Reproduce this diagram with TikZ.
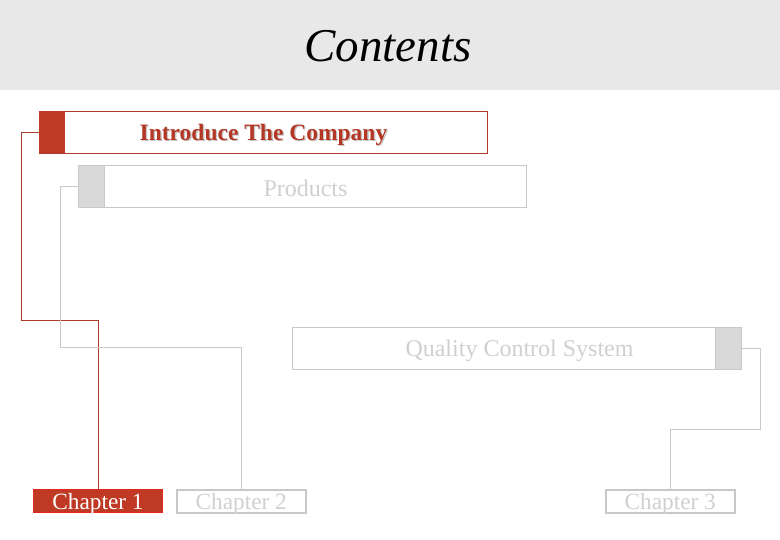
\documentclass[tikz,border=0pt]{standalone}
\usepackage{fontspec}
\setmainfont{Liberation Serif}
\usetikzlibrary{calc}
\begin{document}
\begin{tikzpicture}[x=1pt,y=-1pt,
  redc/.style={draw=redline,line width=1pt},
  grayc/.style={draw=grayline,line width=1pt},
  bigbox/.style={anchor=north west,inner sep=0pt,minimum width=448pt,minimum height=42pt},
  sq/.style={anchor=north west,inner sep=0pt,minimum width=26pt,minimum height=42pt},
  chap/.style={anchor=north west,inner sep=0pt,minimum width=129pt,minimum height=23pt},
  chaptxt/.style={font=\fontsize{23.3}{23.3}\selectfont},
  bigtxt/.style={font=\fontsize{24}{24}\selectfont},
  boldtxt/.style={font=\fontsize{23.5}{23.5}\selectfont\bfseries},
]
\definecolor{redfill}{RGB}{192,57,36}
\definecolor{redtext}{RGB}{180,55,38}
\definecolor{redline}{RGB}{170,60,45}
\definecolor{brightred}{RGB}{230,40,28}
\definecolor{grayline}{RGB}{200,200,200}
\definecolor{grayfill}{RGB}{217,217,217}
\definecolor{graytext}{RGB}{208,208,208}
\definecolor{headbg}{RGB}{232,232,232}
\useasboundingbox (0,0) rectangle (780,540);
\fill[white] (0,0) rectangle (780,540);
\fill[headbg] (0,0) rectangle (780,90);
\node (title) at (388,46) {\fontsize{47}{47}\selectfont\itshape Contents};

% boxes
\node[bigbox,draw=redline,line width=1pt] (intro) at (39,111) {};
\node[sq,fill=redfill] (introsq) at (39,111) {};
\node[boldtxt,text=black!22] (introsh) at ($(intro.center)+(1.3,3.3)$) {Introduce The Company};
\node[boldtxt,text=redtext] (introtxt) at ($(intro.center)+(0,2)$) {Introduce The Company};

\node[bigbox,draw=grayline,line width=1pt] (prod) at (78,165) {};
\node[sq,fill=grayfill,draw=grayline,line width=1pt] (prodsq) at (78,165) {};
\node[bigtxt,text=graytext] (prodtxt) at ($(prod.center)+(3,2)$) {Products};

\node[bigbox,draw=grayline,line width=1pt] (qcs) at (292,327) {};
\node[sq,fill=grayfill,draw=grayline,line width=1pt] (qcssq) at (715,327) {};
\node[bigtxt,text=graytext] (qcstxt) at ($(qcs.center)+(3,2)$) {Quality Control System};

\node[chap,fill=redfill,draw=brightred,line width=1pt] (ch1) at (33,489) {};
\node[chap,draw=grayline,line width=1.5pt] (ch2) at (176,489) {};
\node[chap,draw=grayline,line width=1.5pt] (ch3) at (605,489) {};
\node[chaptxt,text=white] (ch1t) at ($(ch1.center)+(0,2.5)$) {Chapter 1};
\node[chaptxt,text=graytext] (ch2t) at ($(ch2.center)+(0,2.5)$) {Chapter 2};
\node[chaptxt,text=graytext] (ch3t) at ($(ch3.center)+(0,2.5)$) {Chapter 3};

% connectors
\coordinate (r1) at (0,321);
\coordinate (r2) at (0,348);
\coordinate (r3) at (0,429);
\draw[redc] (intro.west) -- ++(-18,0) |- (ch1.north |- r1) -- (ch1.north);
\draw[grayc] (prod.west) -- ++(-18,0) |- (ch2.north |- r2) -- (ch2.north);
\draw[grayc] (qcs.east) -- ++(19,0) |- (ch3.north |- r3) -- (ch3.north);
\end{tikzpicture}
\end{document}
